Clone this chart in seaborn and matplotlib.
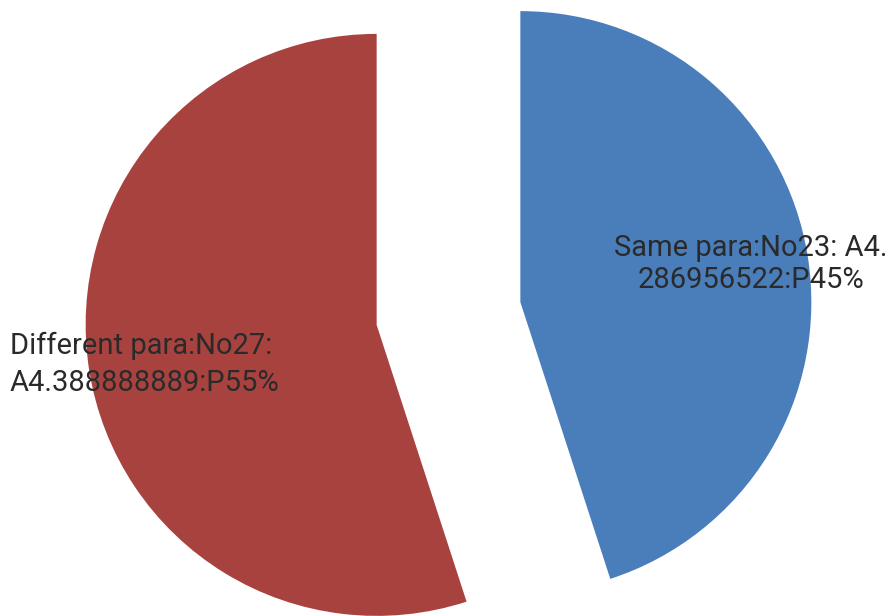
import matplotlib
matplotlib.use("Agg")
import matplotlib.pyplot as plt
import seaborn as sns

# Paragraph comparison: share of cases, counts and averages
categories = ["Same para", "Different para"]
counts = [23, 27]
averages = ["4.286956522", "4.388888889"]
percents = [45, 55]
colors = ["#4A7EBB", "#A8423F"]
labels = [
    "Same para:No23: A4.\n286956522:P45%",
    "Different para:No27:\nA4.388888889:P55%",
]

sns.set_theme(style="white")
plt.rcParams["font.family"] = ["Roboto", "DejaVu Sans"]

W, H = 892, 616
fig = plt.figure(figsize=(W / 100, H / 100), dpi=100)
ax = fig.add_axes([0, 0, 1, 1])

wedges, _ = ax.pie(
    percents,
    colors=colors,
    startangle=90,
    counterclock=False,
    explode=[0.25, 0.25],
    radius=1,
    wedgeprops=dict(linewidth=0),
)

# one unit of pie radius in pixels, pie centre in pixels
r_px = 291
cx, cy = 448.5, H - 313.5
ax.set_aspect("auto")
ax.set_xlim(-cx / r_px, (W - cx) / r_px)
ax.set_ylim(-cy / r_px, (H - cy) / r_px)
ax.axis("off")

txt_color = "#2a2a2a"
ax.text(1.0395, 0.0876, labels[0], ha="center", va="baseline",
        multialignment="center", fontsize=21, color=txt_color,
        linespacing=1.16)
ax.text(-1.507, -0.2663, labels[1], ha="left", va="baseline",
        multialignment="left", fontsize=21, color=txt_color,
        linespacing=1.40)

fig.savefig("out.png", dpi=100, facecolor="white")
